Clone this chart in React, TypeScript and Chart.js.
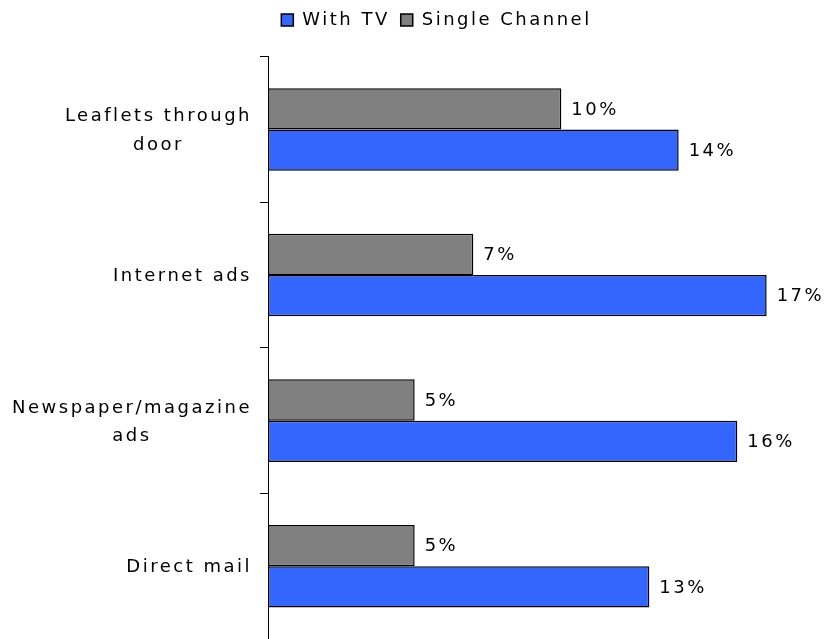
import React, { useEffect, useRef } from 'react';
import { Chart, registerables } from 'chart.js';

Chart.register(...registerables);

const FONT_FAMILY = '"DejaVu Sans", Verdana, sans-serif';
const FONT_SIZE = 18;
const LETTER_SPACING = '2.5px';

// Category labels (each entry = lines of the label)
const categoryLines: string[][] = [
  ['Leaflets through', 'door'],
  ['Internet ads'],
  ['Newspaper/magazine', 'ads'],
  ['Direct mail'],
];
const seriesNames = ['Single Channel', 'With TV'];
const singleChannel = [10, 7, 5, 5];
const withTV = [14, 17, 16, 13];
const seriesColors = ['#808080', '#3366FF'];
const xMax = 18;

function applySpacing(ctx: any) {
  if (ctx && 'letterSpacing' in ctx) ctx.letterSpacing = LETTER_SPACING;
}

const spacingPlugin = {
  id: 'letterSpacingPlugin',
  beforeUpdate(chart: any) {
    applySpacing(chart.ctx);
  },
  beforeDraw(chart: any) {
    applySpacing(chart.ctx);
  },
};

const yLabelPlugin = {
  id: 'yLabelPlugin',
  afterDraw(chart: any) {
    const ctx = chart.ctx;
    const scale = chart.scales.y;
    ctx.save();
    applySpacing(ctx);
    ctx.font = `${FONT_SIZE}px ${FONT_FAMILY}`;
    ctx.fillStyle = '#000';
    ctx.textBaseline = 'middle';
    ctx.textAlign = 'center';
    const rightEdge = scale.right - 16;
    const lineHeight = 28.5;
    categoryLines.forEach((lines, i) => {
      const yc = scale.getPixelForTick(i) + 1.5;
      const w = Math.max(...lines.map((l) => ctx.measureText(l).width));
      const cx = rightEdge - w / 2;
      const y0 = yc - ((lines.length - 1) * lineHeight) / 2;
      lines.forEach((l, j) => ctx.fillText(l, cx, y0 + j * lineHeight));
    });
    ctx.restore();
  },
};

const valueLabelPlugin = {
  id: 'valueLabelPlugin',
  afterDatasetsDraw(chart: any) {
    const ctx = chart.ctx;
    ctx.save();
    applySpacing(ctx);
    ctx.font = `${FONT_SIZE}px ${FONT_FAMILY}`;
    ctx.fillStyle = '#000';
    ctx.textBaseline = 'middle';
    ctx.textAlign = 'left';
    chart.data.datasets.forEach((ds: any, di: number) => {
      const meta = chart.getDatasetMeta(di);
      meta.data.forEach((bar: any, i: number) => {
        ctx.fillText(`${ds.data[i]}%`, bar.x + 10, bar.y + 1);
      });
    });
    ctx.restore();
  },
};

export default function App() {
  const ref = useRef<HTMLCanvasElement>(null);
  useEffect(() => {
    document.body.style.margin = '0';
    const canvas = ref.current!;
    const chart = new Chart(canvas, {
      type: 'bar',
      data: {
        labels: categoryLines.map((l) => l.join(' ')),
        datasets: [
          {
            label: seriesNames[0],
            data: singleChannel,
            backgroundColor: seriesColors[0],
            borderColor: '#000',
            borderWidth: 1.5,
            borderSkipped: false,
            categoryPercentage: 0.567,
            barPercentage: 1,
          },
          {
            label: seriesNames[1],
            data: withTV,
            backgroundColor: seriesColors[1],
            borderColor: '#000',
            borderWidth: 1.5,
            borderSkipped: false,
            categoryPercentage: 0.567,
            barPercentage: 1,
          },
        ],
      },
      options: {
        indexAxis: 'y',
        responsive: false,
        animation: false,
        events: [],
        layout: { padding: { left: 77, right: 31, top: 0, bottom: 0 } },
        scales: {
          x: { type: 'linear', min: 0, max: xMax, display: false },
          y: {
            type: 'category',
            position: 'left',
            offset: true,
            grid: {
              display: true,
              offset: true,
              drawOnChartArea: false,
              drawTicks: true,
              tickLength: 8,
              color: '#000',
            },
            border: { display: true, color: '#000', width: 1 },
            ticks: { display: false },
            afterFit: (scale: any) => {
              scale.width = 191;
            },
          },
        },
        plugins: {
          legend: {
            display: true,
            position: 'top',
            reverse: true,
            labels: {
              boxWidth: 12,
              boxHeight: 12,
              padding: 11,
              color: '#000',
              font: { family: FONT_FAMILY, size: FONT_SIZE },
            },
          },
          title: {
            display: true,
            text: '',
            weight: 500,
            padding: { top: 16.5, bottom: 0 },
            font: { size: 1 },
          },
          tooltip: { enabled: false },
        },
      },
      plugins: [spacingPlugin, yLabelPlugin, valueLabelPlugin],
    } as any);
    return () => chart.destroy();
  }, []);
  return (
    <div style={{ width: 827, height: 639 }}>
      <canvas ref={ref} width={827} height={639} style={{ display: 'block' }} />
    </div>
  );
}
